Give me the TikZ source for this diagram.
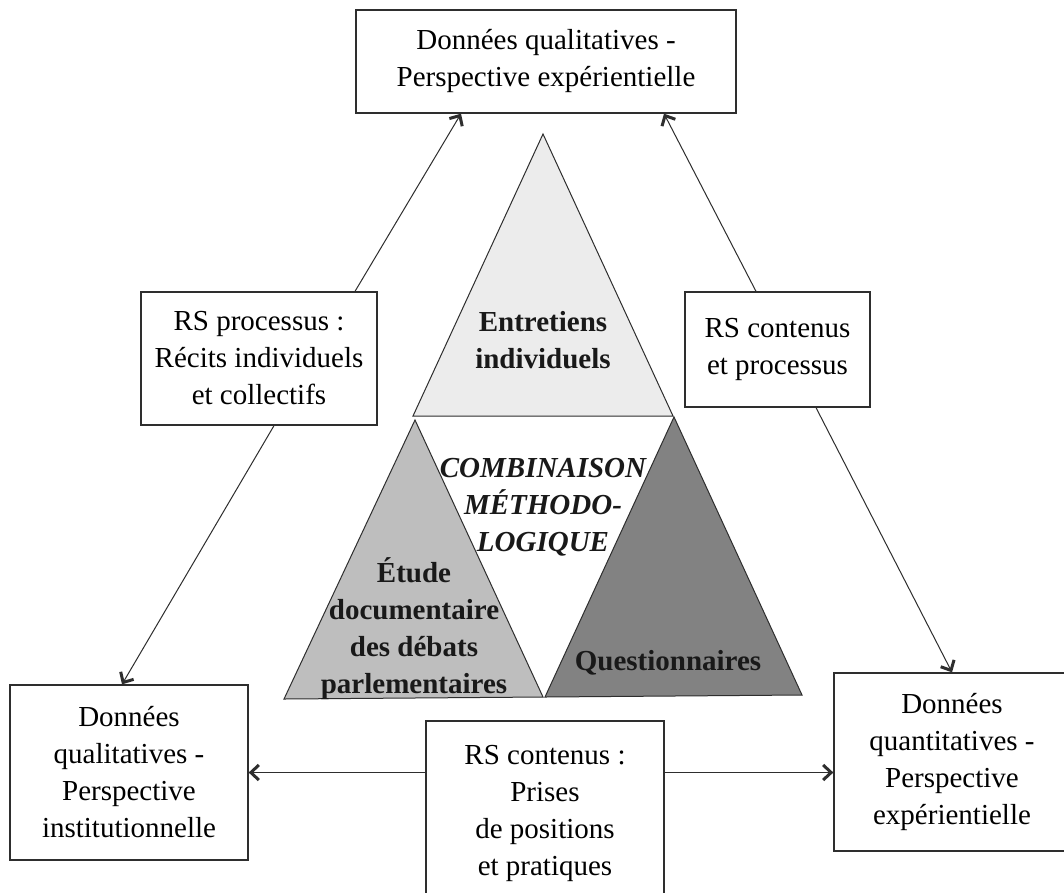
\documentclass[tikz,border=0pt]{standalone}
\usepackage{fontspec}
\setmainfont{Liberation Serif}
\usetikzlibrary{arrows.meta}
\definecolor{lineclr}{HTML}{2E2E2E}
\definecolor{toptri}{HTML}{ECECEC}
\definecolor{lefttri}{HTML}{BEBEBE}
\definecolor{righttri}{HTML}{828282}
\tikzset{
  box/.style={draw=lineclr, line width=1.3pt, fill=white, align=center, inner sep=0pt,
    font={\fontsize{29}{37}\selectfont}},
  conn/.style={draw=lineclr, line width=1pt, -{Straight Barb[length=8pt,width=15pt,line width'=3pt]}},
  tri/.style={draw=lineclr, line width=1pt},
  trilabel/.style={align=center, inner sep=0pt, font={\fontsize{29}{37}\selectfont\bfseries}, text=black!90},
}
\begin{document}
\begin{tikzpicture}[x=1pt,y=-1pt]
\useasboundingbox (0,0) rectangle (1064,892);
\clip (0,0) rectangle (1064,892);
\fill[white] (0,0) rectangle (1064,892);

% triangles
\path[tri, fill=toptri] (543,134) -- (413,416) -- (673,416) -- cycle;
\path[tri, fill=lefttri] (415,420) -- (284,699) -- (543,697) -- cycle;
\path[tri, fill=righttri] (674,417) -- (545,697) -- (802,695) -- cycle;

\node[trilabel] (ent) at (543,340) {Entretiens\\individuels};
\node[trilabel, font={\fontsize{29}{37}\selectfont\bfseries\itshape}] (comb) at (543,507) {COMBINAISON\\MÉTHODO-\\LOGIQUE};
\node[trilabel] (etude) at (414,629) {Étude\\documentaire\\des débats\\parlementaires};
\node[trilabel] (quest) at (668,663) {Questionnaires};

% boxes
\node[box, minimum width=380pt, minimum height=103pt] (top) at (546,61.5) {Données qualitatives -\\Perspective expérientielle};
\node[box, minimum width=236pt, minimum height=133pt] (rsp) at (259,358.5) {RS processus :\\Récits individuels\\et collectifs};
\node[box, minimum width=185pt, minimum height=115pt] (rcp) at (777.5,349.5) {RS contenus\\et processus};
\node[box, minimum width=238pt, minimum height=175pt] (lb) at (129,772.5) {Données\\qualitatives -\\Perspective\\institutionnelle};
\node[box, minimum width=238pt, minimum height=184pt] (mid) at (545,813) {RS contenus :\\Prises\\de positions\\et pratiques};
\node[box, minimum width=236pt, minimum height=178pt] (rb) at (952,762) {Données\\quantitatives -\\Perspective\\expérientielle};

% connectors
\draw[conn] ([xshift=96pt]rsp.north) -- ([xshift=-85pt]top.south);
\draw[conn] ([xshift=-21.5pt]rcp.north) -- ([xshift=118pt]top.south);
\draw[conn] ([xshift=15pt]rsp.south) -- ([xshift=-7pt]lb.north);
\draw[conn] ([xshift=38.5pt]rcp.south) -- (rb.north);
\draw[conn] (mid.west |- lb.east) -- (lb.east);
\draw[conn] (mid.east |- lb.east) -- (rb.west |- lb.east);
\end{tikzpicture}
\end{document}
